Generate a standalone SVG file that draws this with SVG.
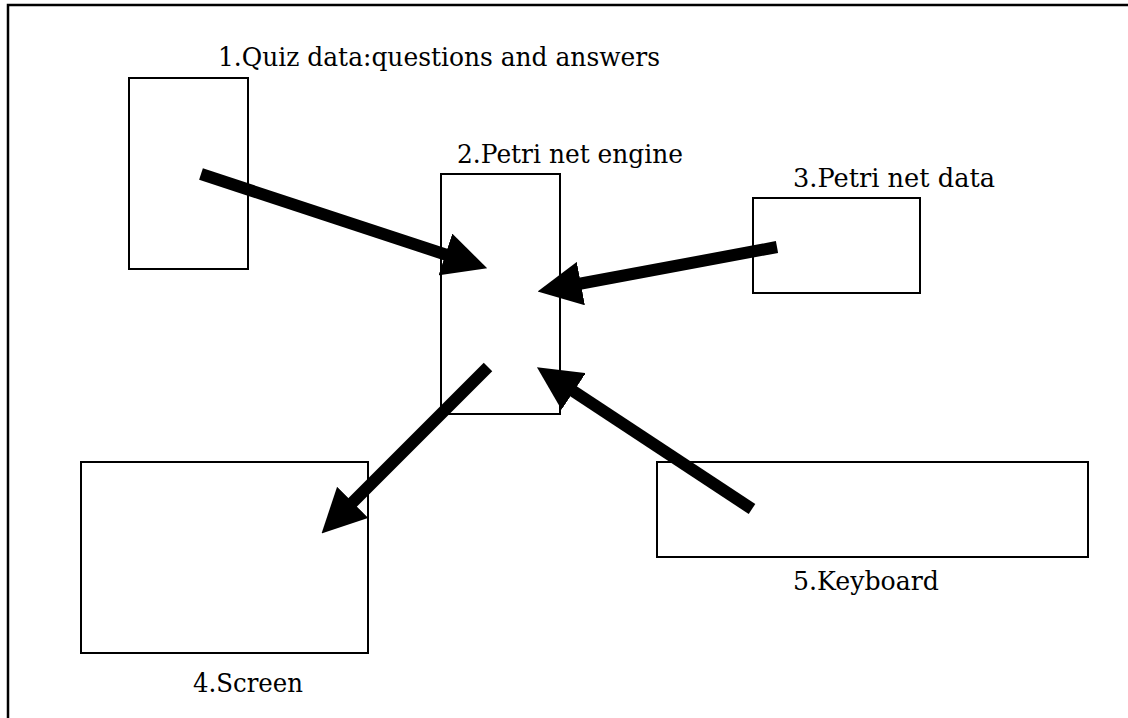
<svg xmlns="http://www.w3.org/2000/svg" width="1128" height="718" viewBox="0 0 1128 718">
  <style>
    .box { fill: #ffffff; stroke: #000000; stroke-width: 2; }
    .lbl { font-family: "DejaVu Serif", "Liberation Serif", serif; font-size: 26px; fill: #000000; }
    .arrow { stroke: #000000; stroke-width: 12; stroke-linecap: butt; fill: none; marker-end: url(#head); }
    .frame { stroke: #000000; stroke-width: 2.5; fill: none; }
  </style>
  <defs>
    <marker id="head" viewBox="0 0 44 44" refX="8" refY="22" markerWidth="44" markerHeight="44" markerUnits="userSpaceOnUse" orient="auto">
      <path d="M0,0 L44,22 L0,44 Z" fill="#000000"/>
    </marker>
  </defs>
  <rect width="1128" height="718" fill="#ffffff"/>
  <g id="frame">
    <path class="frame" d="M8,718 L8,5 L1128,5"/>
  </g>
  <g id="node1">
    <rect class="box" x="129" y="78" width="119" height="191"/>
    <text class="lbl" x="218" y="66" textLength="442" lengthAdjust="spacingAndGlyphs">1.Quiz data:questions and answers</text>
  </g>
  <g id="node2">
    <rect class="box" x="441" y="174" width="119" height="240"/>
    <text class="lbl" x="457" y="163" textLength="226" lengthAdjust="spacingAndGlyphs">2.Petri net engine</text>
  </g>
  <g id="node3">
    <rect class="box" x="753" y="198" width="167" height="95"/>
    <text class="lbl" x="793" y="187" textLength="202" lengthAdjust="spacingAndGlyphs">3.Petri net data</text>
  </g>
  <g id="node4">
    <rect class="box" x="81" y="462" width="287" height="191"/>
    <text class="lbl" x="193" y="692" textLength="110" lengthAdjust="spacingAndGlyphs">4.Screen</text>
  </g>
  <g id="node5">
    <rect class="box" x="657" y="462" width="431" height="95"/>
    <text class="lbl" x="793" y="590" textLength="146" lengthAdjust="spacingAndGlyphs">5.Keyboard</text>
  </g>
  <g id="connectors">
    <line class="arrow" x1="201" y1="174" x2="453" y2="257"/>
    <line class="arrow" x1="777" y1="247" x2="573" y2="285"/>
    <line class="arrow" x1="488" y1="367" x2="347" y2="508"/>
    <line class="arrow" x1="752" y1="509" x2="567" y2="387"/>
  </g>
</svg>
